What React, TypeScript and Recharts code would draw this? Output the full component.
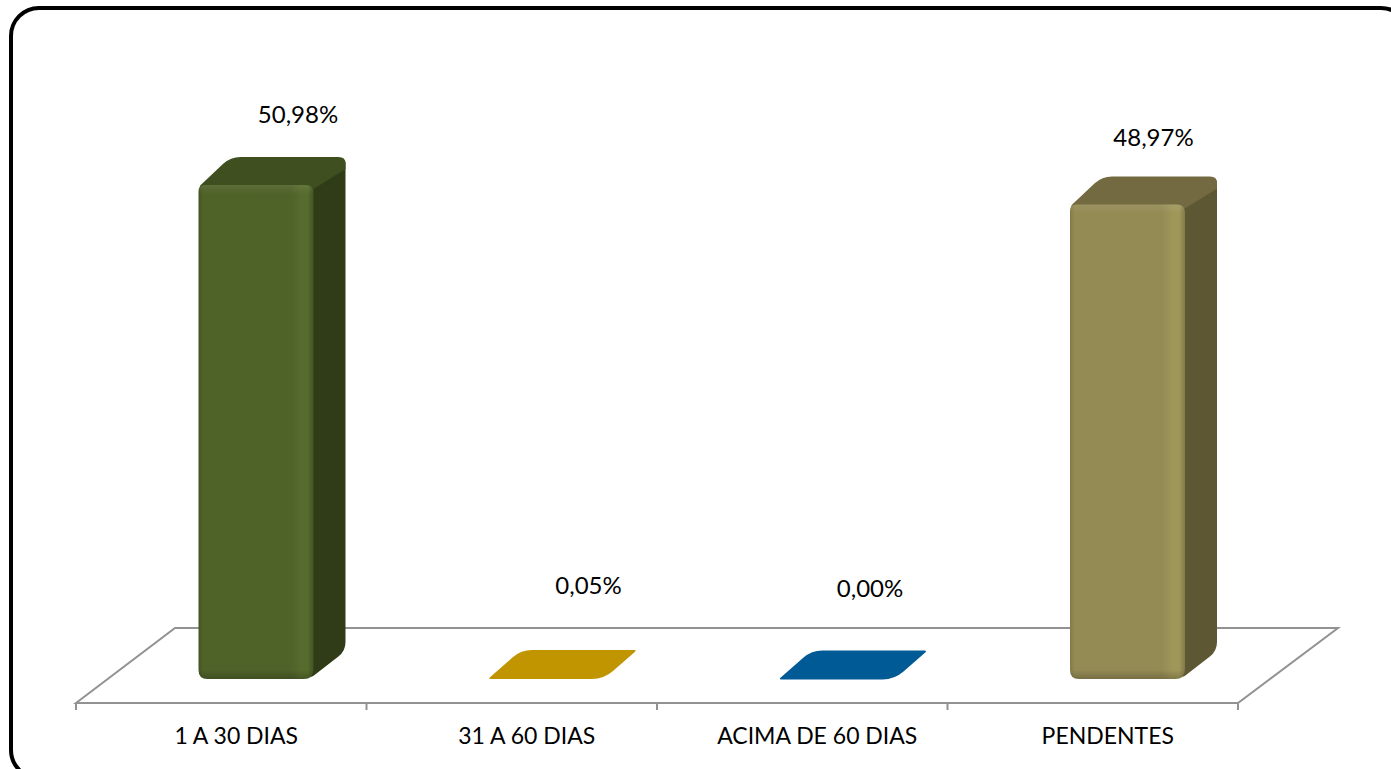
import React from "react";
import { Bar, BarChart, LabelList, XAxis, YAxis, usePlotArea } from "recharts";

// values
const categories = ["1 A 30 DIAS", "31 A 60 DIAS", "ACIMA DE 60 DIAS", "PENDENTES"];
const percentages = [50.98, 0.05, 0.0, 48.97];

const frontColors = ["#4f6228", "#c19500", "#005a96", "#948a54"];
const lightColors = ["#566b2d", "#c19500", "#005a96", "#9f9659"];
const edgeColors = ["#435423", "#c19500", "#005a96", "#837a49"];
const topColors = ["#3f4f20", "#c19500", "#005a96", "#736a41"];
const sideColors = ["#303c17", "#c19500", "#005a96", "#5e5733"];

// nudges of the data labels from the middle of each bar's front face
const labelNudges = [
  { dx: 42, dy: -70 },
  { dx: 42, dy: -92 },
  { dx: 33, dy: -90 },
  { dx: 26, dy: -66 },
];

const chartData = categories.map((name, i) => ({ name, value: percentages[i] }));

const FONT = "Lato, 'Open Sans', sans-serif";
const DEPTH_X = 32;
const DEPTH_Y = 28;
const BAR_SHIFT = 34.5;
const TICK_SHIFT = 15;

// polygon with its own corner radius at each point
function roundedPoly(pts: number[][], radii: number[]) {
  let d = "";
  pts.forEach((p, i) => {
    const prev = pts[(i + pts.length - 1) % pts.length];
    const next = pts[(i + 1) % pts.length];
    const toward = (a: number[], b: number[]) => {
      const len = Math.hypot(b[0] - a[0], b[1] - a[1]) || 1;
      const k = Math.min(radii[i], len / 2) / len;
      return [a[0] + (b[0] - a[0]) * k, a[1] + (b[1] - a[1]) * k];
    };
    const a = toward(p, prev);
    const b = toward(p, next);
    d += `${i === 0 ? "M" : "L"}${a[0]},${a[1]} Q${p[0]},${p[1]} ${b[0]},${b[1]} `;
  });
  return d + "Z";
}

function Bar3D(props: any) {
  const { x, y, width, height, index } = props;
  const left = x + BAR_SHIFT;
  const right = left + width;
  const bottom = y + height;
  const top = topColors[index];

  if (height < 4) {
    const flat = roundedPoly(
      [
        [left - 1, y + 0.5],
        [left + DEPTH_X, y - DEPTH_Y - 0.5],
        [right + DEPTH_X + 1, y - DEPTH_Y - 0.5],
        [right, y + 0.5],
      ],
      [3, 11, 3, 12]
    );
    return <path d={flat} fill={top} />;
  }

  const topFace = roundedPoly(
    [
      [left, y + 2],
      [left + DEPTH_X, y - DEPTH_Y],
      [right + DEPTH_X, y - DEPTH_Y],
      [right + DEPTH_X, y - DEPTH_Y + 12],
      [right, y + 4],
    ],
    [3, 10, 7, 0, 0]
  );
  const sideFace = roundedPoly(
    [
      [right - 4, y + 2],
      [right + DEPTH_X, y - DEPTH_Y + 3],
      [right + DEPTH_X, bottom - DEPTH_Y],
      [right - 4, bottom],
    ],
    [0, 3, 9, 6]
  );
  const frontFace = roundedPoly(
    [
      [left, y],
      [right, y],
      [right, bottom],
      [left, bottom],
    ],
    [6, 8, 10, 9]
  );
  const id = `bar-${index}`;
  const shadeStop = 100 - (9 / height) * 100;
  const glowStop = (9 / height) * 100;

  return (
    <g>
      <defs>
        <linearGradient id={`${id}-h`} x1="0" y1="0" x2="1" y2="0">
          <stop offset="0%" stopColor={edgeColors[index]} />
          <stop offset="4%" stopColor={frontColors[index]} />
          <stop offset="80%" stopColor={frontColors[index]} />
          <stop offset="89%" stopColor={lightColors[index]} />
          <stop offset="95%" stopColor={lightColors[index]} />
          <stop offset="100%" stopColor={edgeColors[index]} />
        </linearGradient>
        <linearGradient id={`${id}-v`} x1="0" y1="0" x2="0" y2="1">
          <stop offset="0%" stopColor="#ffffff" stopOpacity={0.08} />
          <stop offset={`${glowStop}%`} stopColor="#ffffff" stopOpacity={0} />
          <stop offset={`${shadeStop}%`} stopColor="#000000" stopOpacity={0} />
          <stop offset="100%" stopColor="#000000" stopOpacity={0.2} />
        </linearGradient>
      </defs>
      <path d={sideFace} fill={sideColors[index]} />
      <path d={topFace} fill={top} />
      <path d={frontFace} fill={`url(#${id}-h)`} />
      <path d={frontFace} fill={`url(#${id}-v)`} />
    </g>
  );
}

// the flat floor behind the bars, with its tick marks
function Floor() {
  const plot = usePlotArea();
  if (!plot) return null;
  const { x, y, width, height } = plot;
  const baseY = y + height;
  const backY = baseY - 75;
  const color = "#929292";
  const marks = categories.map((_, i) => x + (width / categories.length) * i).concat(x + width);
  return (
    <g>
      <path
        d={`M${x},${baseY} L${x + 99},${backY} L${x + width + 100},${backY} L${x + width},${baseY} Z`}
        fill="none"
        stroke={color}
        strokeWidth={2}
      />
      {marks.map((m) => (
        <line key={m} x1={m} x2={m} y1={baseY} y2={baseY + 7} stroke={color} strokeWidth={2} />
      ))}
    </g>
  );
}

function CategoryTick({ x, y, payload }: any) {
  return (
    <text x={x + TICK_SHIFT} y={y} dy={33} textAnchor="middle" fontSize={23} fontFamily={FONT} fill="#000">
      {payload.value}
    </text>
  );
}

function PercentLabel({ x, y, width, index, value }: any) {
  const nudge = labelNudges[index];
  const cx = x + BAR_SHIFT + width / 2 + nudge.dx;
  return (
    <text
      x={cx}
      y={y + nudge.dy}
      dy={8}
      textAnchor="middle"
      fontSize={24}
      fontFamily={FONT}
      fill="#000"
    >
      {Number(value).toFixed(2).replace(".", ",")}%
    </text>
  );
}

export default function App() {
  return (
    <div style={{ position: "absolute", left: 0, top: 0, width: 1391, height: 769, overflow: "hidden", background: "#fff" }}>
      <div
        style={{
          position: "absolute",
          left: 9,
          top: 6,
          width: 1394,
          height: 766,
          border: "4px solid #000",
          borderRadius: 30,
        }}
      />
      <div style={{ position: "absolute", left: 0, top: 0 }}>
        <BarChart
          width={1391}
          height={769}
          data={chartData}
          margin={{ top: 146, right: 153, bottom: 0, left: 76 }}
        >
          <XAxis dataKey="name" height={66} axisLine={false} tickLine={false} tick={<CategoryTick />} interval={0} />
          <YAxis hide domain={[-2.48, 55]} />
          <Floor />
          <Bar dataKey="value" barSize={115} shape={<Bar3D />} isAnimationActive={false}>
            <LabelList dataKey="value" content={<PercentLabel />} />
          </Bar>
        </BarChart>
      </div>
    </div>
  );
}
